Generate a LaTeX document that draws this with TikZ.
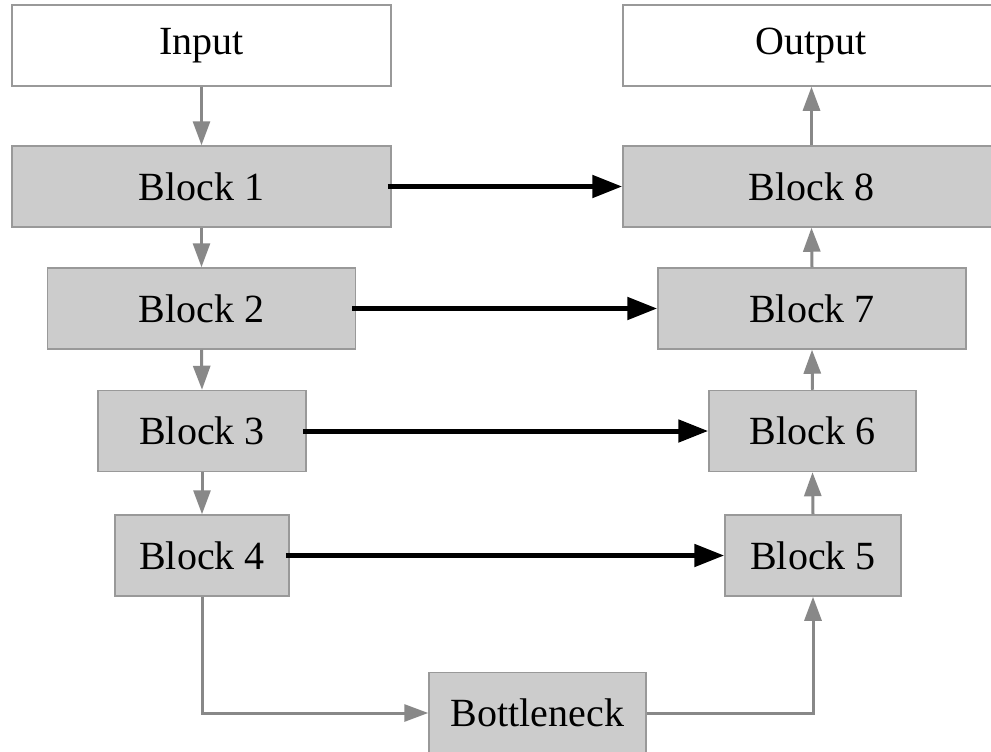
\documentclass[tikz,border=0pt]{standalone}
\usepackage{fontspec}
\setmainfont{Liberation Serif}
\usetikzlibrary{arrows.meta}
\definecolor{boxfill}{HTML}{CCCCCC}
\definecolor{boxline}{HTML}{999999}
\definecolor{flowgray}{HTML}{888888}
\tikzset{
  blk/.style={draw=boxline, line width=1.5pt, fill=boxfill, inner sep=0pt,
    minimum height=81pt, font=\fontsize{40}{40}\selectfont},
  io/.style={blk, fill=white},
  flow/.style={draw=flowgray, line width=3pt,
    -{Triangle[length=24pt,width=17pt]}},
  skip/.style={draw=black, line width=5pt,
    -{Triangle[length=30pt,width=22pt]}}
}
\begin{document}
\begin{tikzpicture}[x=1pt,y=-1pt]
  \clip (0,0) rectangle (991,752);
  \fill[white] (0,0) rectangle (991,752);

  % encoder column
  \node[io,  minimum width=379pt] (in) at (201.5,45.5)  {Input};
  \node[blk, minimum width=379pt] (b1) at (201.5,186.5) {Block 1};
  \node[blk, minimum width=308pt] (b2) at (201.5,308.5) {Block 2};
  \node[blk, minimum width=208pt] (b3) at (202,431)     {Block 3};
  \node[blk, minimum width=174pt] (b4) at (202,555.5)   {Block 4};

  % bottleneck
  \node[blk, minimum width=217pt] (bn) at (537.5,713)   {Bottleneck};

  % decoder column
  \node[blk, minimum width=176pt] (b5) at (813,555.5)   {Block 5};
  \node[blk, minimum width=207pt] (b6) at (812.5,431)   {Block 6};
  \node[blk, minimum width=308pt] (b7) at (812,308.5)   {Block 7};
  \node[blk, minimum width=377pt] (b8) at (811.5,186.5) {Block 8};
  \node[io,  minimum width=377pt] (out) at (811.5,45.5) {Output};

  % main path
  \draw[flow] (in.south) -- (b1.north);
  \draw[flow] (b1.south) -- (b2.north);
  \draw[flow] (b2.south) -- (b3.north);
  \draw[flow] (b3.south) -- (b4.north);
  \draw[flow] (b4.south) |- (bn.west);
  \draw[flow] (bn.east) -| (b5.south);
  \draw[flow] (b5.north) -- (b6.south);
  \draw[flow] (b6.north) -- (b7.south);
  \draw[flow] (b7.north) -- (b8.south);
  \draw[flow] (b8.north) -- (out.south);

  % skip connections
  \draw[skip] ([xshift=-4pt]b1.east) -- (b8.west);
  \draw[skip] ([xshift=-4pt]b2.east) -- (b7.west);
  \draw[skip] ([xshift=-4pt]b3.east) -- (b6.west);
  \draw[skip] ([xshift=-4pt]b4.east) -- (b5.west);
\end{tikzpicture}
\end{document}
